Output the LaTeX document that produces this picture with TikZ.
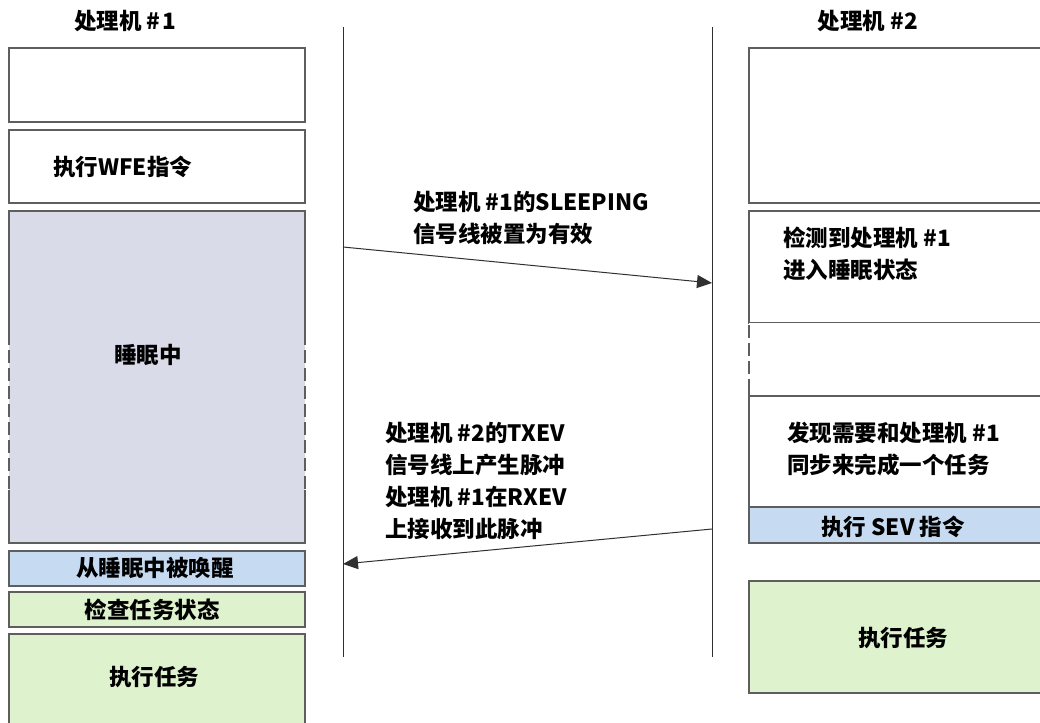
\documentclass[tikz,border=0pt]{standalone}
\usepackage{fontspec}
\setmainfont{Noto Sans CJK SC}
\usetikzlibrary{arrows.meta}
\definecolor{boxline}{HTML}{5E5E5E}
\definecolor{sleepfill}{HTML}{D9DBE8}
\definecolor{bluefill}{HTML}{C6DBF1}
\definecolor{greenfill}{HTML}{DEF2CD}
\definecolor{lifeline}{HTML}{303030}
\tikzset{
  box/.style={draw=boxline, line width=1.5pt, fill=white, inner sep=0pt, outer sep=0pt},
  openbox/.style={fill=white, inner sep=0pt, outer sep=0pt},
  edge/.style={draw=boxline, line width=1.5pt},
  dashedge/.style={draw=boxline, line width=1.5pt, dash pattern=on 13pt off 5pt},
  lbl/.style={inner sep=0pt, font=\bfseries\fontsize{22.5}{32}\selectfont, text=black},
  life/.style={draw=lifeline, line width=1pt},
  msg/.style={draw=lifeline, line width=1pt, -{Triangle[length=15pt,width=13pt]}},
}
\begin{document}
\begin{tikzpicture}[x=1pt,y=-1pt]
\useasboundingbox (0,0) rectangle (1040,722);
\clip (0,0) rectangle (1040,722);
\fill[white] (0,0) rectangle (1040,722);

% titles
\node[lbl] (t1) at (125,21) {处理机\hspace{5pt}\#\hspace{2pt}1};
\node[lbl] (t2) at (868,21) {处理机 \#2};

% lifelines
\coordinate (l1top) at (343,27);
\coordinate (l1bot) at (343,657);
\coordinate (l2top) at (712,27);
\coordinate (l2bot) at (712,657);
\draw[life] (l1top) -- (l1bot);
\draw[life] (l2top) -- (l2bot);

% left column
\node[box, minimum width=296pt, minimum height=74pt] (a1) at (157,85) {};
\node[box, minimum width=296pt, minimum height=73pt] (a2) at (157,166.5) {};
\node[lbl, anchor=west] (a2t) at (53,167) {执行WFE指令};
\node[openbox, fill=sleepfill, minimum width=296pt, minimum height=332pt] (sl) at (157,377) {};
\draw[edge] ([yshift=-121pt]sl.north west) -- (sl.north west) -- (sl.north east) -- ([yshift=-121pt]sl.north east);
\draw[dashedge] ([yshift=-121pt]sl.north east) -- ([yshift=53pt]sl.south east);
\draw[dashedge] ([yshift=-121pt]sl.north west) -- ([yshift=53pt]sl.south west);
\draw[edge] ([yshift=53pt]sl.south west) -- (sl.south west) -- (sl.south east) -- ([yshift=53pt]sl.south east);
\node[lbl] (slt) at (148,355) {睡眠中};
\node[box, fill=bluefill, minimum width=296pt, minimum height=35pt] (a4) at (157,568.5) {};
\node[lbl] (a4t) at (155,568) {从睡眠中被唤醒};
\node[box, fill=greenfill, minimum width=296pt, minimum height=35pt] (a5) at (157,609.5) {};
\node[lbl] (a5t) at (152,610) {检查任务状态};
\node[box, fill=greenfill, minimum width=296pt, minimum height=100pt] (a6) at (157,684) {};
\node[lbl] (a6t) at (154,677) {执行任务};

% right column
\node[box, minimum width=330pt, minimum height=155pt] (b1) at (914,125.5) {};
\node[box, minimum width=330pt, minimum height=112pt] (b2) at (914,267) {};
\node[lbl, anchor=west, align=left] (b2t) at (783,254) {检测到处理机 \#1\\进入睡眠状态};
\node[openbox, minimum width=330pt, minimum height=73pt] (b3) at (914,359.5) {};
\draw[dashedge] ([yshift=-2pt]b3.north west) -- ([yshift=9pt]b3.south west);
\draw[edge] ([yshift=9pt]b3.south west) -- (b3.south west);
\node[box, minimum width=330pt, minimum height=111pt] (b4) at (914,451.5) {};
\node[lbl, anchor=west, align=left] (b4t) at (787,449) {发现需要和处理机 \#1\\同步来完成一个任务};
\node[box, fill=bluefill, minimum width=330pt, minimum height=36pt] (b5) at (914,525) {};
\node[lbl] (b5t) at (893,527) {执行 SEV 指令};
\node[box, fill=greenfill, minimum width=330pt, minimum height=112pt] (b6) at (914,637) {};
\node[lbl] (b6t) at (903,638) {执行任务};

% messages
\coordinate (m1s) at (343,247);
\coordinate (m1e) at (712,283);
\draw[msg] (m1s) -- (m1e);
\node[lbl, anchor=west, align=left] (m1t) at (413,218) {处理机 \#1的SLEEPING\\信号线被置为有效};

\coordinate (m2s) at (712,529);
\coordinate (m2e) at (343,564);
\draw[msg] (m2s) -- (m2e);
\node[lbl, anchor=west, align=left] (m2t) at (385,481) {处理机 \#2的TXEV\\信号线上产生脉冲\\处理机 \#1在RXEV\\上接收到此脉冲};
\end{tikzpicture}
\end{document}
